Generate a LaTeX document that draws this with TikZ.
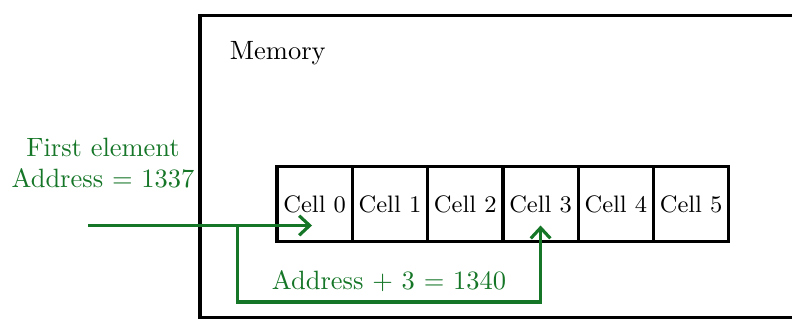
\documentclass[tikz,border=0pt]{standalone}
\usepackage{tikz}
\usetikzlibrary{positioning,arrows.meta}
\usepackage{xcolor}
\definecolor{ptrgreen}{RGB}{22,118,40}

\begin{document}
\begin{tikzpicture}[
  cell/.style={draw, very thick, minimum width=1cm, minimum height=1cm, inner sep=1pt, outer sep=0pt, font=\small},
  membox/.style={draw, very thick},
  ptrarrow/.style={-{Straight Barb[length=1.4mm, width=2.6mm]}, very thick, ptrgreen},
  ptrlabel/.style={text=ptrgreen, align=center}
]
\clip (0,0) rectangle (10.518,4.25);

\draw[membox] (2.656,0.033) rectangle (11,4.047);
\node[anchor=west] (memlabel) at (2.93,3.55) {Memory};

\node[cell] (c0) at (4.179,1.54) {Cell 0};
\node[cell] (c1) at (5.179,1.54) {Cell 1};
\node[cell] (c2) at (6.179,1.54) {Cell 2};
\node[cell] (c3) at (7.179,1.54) {Cell 3};
\node[cell] (c4) at (8.179,1.54) {Cell 4};
\node[cell] (c5) at (9.179,1.54) {Cell 5};

\node[ptrlabel] (first) at (1.368,2.085) {First element\\Address = 1337};

\coordinate (ptr) at (1.169,1.255);
\coordinate (fork) at (3.154,1.255);
\coordinate (low) at (3.154,0.24);

\draw[ptrarrow] (ptr) -- ([xshift=-1pt]ptr -| c0);
\draw[ptrarrow] (fork) |- node[pos=0.75, above, text=ptrgreen]{Address + 3 = 1340} (c3 |- low) -- (c3 |- ptr);
\end{tikzpicture}
\end{document}
